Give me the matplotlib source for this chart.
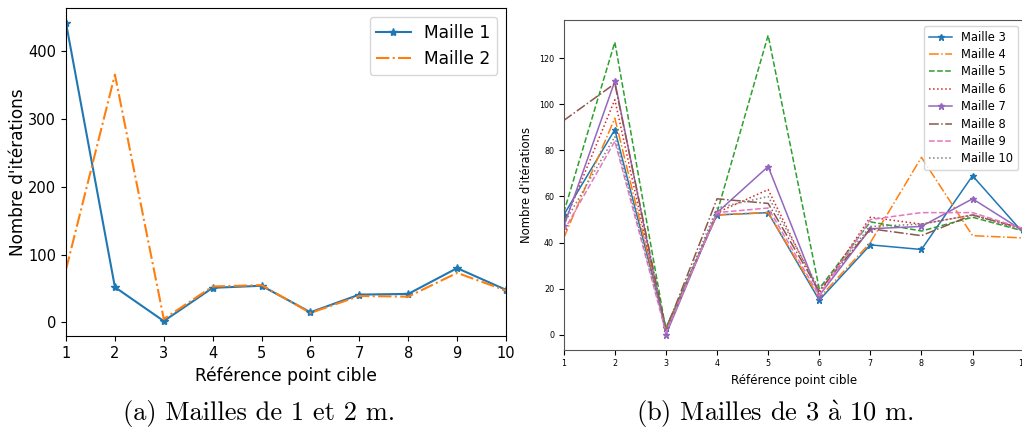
import matplotlib
matplotlib.use("Agg")
import matplotlib.pyplot as plt

# x axis: target point reference
points = list(range(1, 11))

# left panel: meshes of 1 and 2 m
maille_1 = [441, 52, 2, 51, 54, 15, 41, 42, 80, 48]
maille_2 = [78, 365, 5, 53, 55, 14, 39, 38, 73, 47]

# right panel: meshes of 3 to 10 m
maille_3 = [52, 89, 3, 52, 53, 15, 39, 37, 69, 44]
maille_4 = [42, 94, 3, 52, 53, 16, 40, 77, 43, 42]
maille_5 = [53, 127, 2, 53, 130, 20, 49, 45, 51, 45]
maille_6 = [48, 102, 1, 53, 63, 18, 51, 48, 52, 46]
maille_7 = [47, 110, 0, 53, 73, 17, 46, 47, 59, 45]
maille_8 = [93, 109, 2, 59, 57, 19, 46, 43, 52, 46]
maille_9 = [45, 84, 1, 53, 55, 17, 50, 53, 53, 46]
maille_10 = [48, 86, 2, 55, 60, 20, 47, 48, 52, 45]

right_series = [maille_3, maille_4, maille_5, maille_6, maille_7, maille_8, maille_9, maille_10]
right_labels = ["Maille %d" % i for i in range(3, 11)]
right_styles = ["-", "-.", "--", ":", "-", "-.", "--", ":"]
right_markers = ["*", None, None, None, "*", None, None, None]

captions = ["(a) Mailles de 1 et 2 m.", r"(b) Mailles de 3 $\grave{\mathrm{a}}$ 10 m."]

plt.rcParams["mathtext.fontset"] = "cm"

fig = plt.figure(figsize=(10.22, 4.28), dpi=100)

# (a) left panel
ax = fig.add_axes([0.0646, 0.215, 0.4305, 0.766])
ax.plot(points, maille_1, color="C0", linestyle="-", marker="*", markersize=6, label="Maille 1")
ax.plot(points, maille_2, color="C1", linestyle="-.", label="Maille 2")
ax.set_xlim(1, 10)
ax.set_xticks(points)
ax.set_yticks([0, 100, 200, 300, 400])
ax.tick_params(labelsize=10.5)
ax.set_xlabel("Référence point cible", fontsize=12.3)
ax.set_ylabel("Nombre d'itérations", fontsize=12.2, labelpad=1)
ax.legend(loc="upper right", fontsize=12.3)

# (b) right panel
ax = fig.add_axes([0.5516, 0.183, 0.450, 0.7696])
for vals, lab, ls, mk in zip(right_series, right_labels, right_styles, right_markers):
    ax.plot(points, vals, linestyle=ls, marker=mk, markersize=5, linewidth=1.1, label=lab)
ax.set_xlim(1, 10)
ax.set_xticks(points)
ax.set_yticks([0, 20, 40, 60, 80, 100, 120])
ax.tick_params(labelsize=5.8)
ax.set_xlabel("Référence point cible", fontsize=8.6)
ax.set_ylabel("Nombre d'itérations", fontsize=8.4)
ax.legend(loc="upper right", fontsize=8.3, labelspacing=0.38)
for sp in ax.spines.values():
    sp.set_color("#555555")

# captions in a LaTeX-like serif
fig.text(0.253, 0.033, captions[0], ha="center", va="center", fontsize=19,
         family=["cmr10", "DejaVu Serif"])
fig.text(0.758, 0.033, captions[1], ha="center", va="center", fontsize=19,
         family=["cmr10", "DejaVu Serif"])

fig.savefig("out.png", dpi=100)
